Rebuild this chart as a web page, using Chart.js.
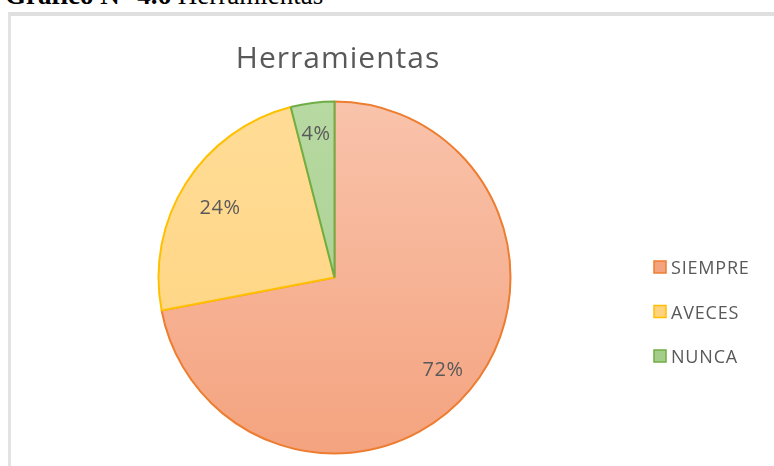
<!DOCTYPE html>
<html>
<head>
<meta charset="utf-8">
<script src="https://cdn.jsdelivr.net/npm/chart.js@4/dist/chart.umd.min.js"></script>
<style>
  html, body { margin: 0; padding: 0; background: #fff; width: 774px; height: 466px; overflow: hidden; }
  #caption { position: absolute; left: 5px; top: -18px; font-family: "Liberation Serif", "Times New Roman", serif; font-size: 27px; line-height: 27px; color: #000; white-space: nowrap; }
  #frame { position: absolute; left: 8px; top: 12px; width: 820px; height: 520px; border-left: 3px solid #e3e3e3; border-top: 4px solid #dfdfdf; }
  #wrap { position: absolute; left: 0; top: 0; width: 774px; height: 466px; }
</style>
</head>
<body>
<div id="caption"><b>Gráfico N° 4.6</b> Herramientas</div>
<div id="frame"></div>
<div id="wrap"><canvas id="c" width="774" height="466"></canvas></div>
<script>
const chartTitle = "Herramientas";
const categories = ["SIEMPRE", "AVECES", "NUNCA"];
const values = [72, 24, 4];
const fillTop = ["#F9C3AB", "#FFDC96", "#B7D9A2"];
const fillBottom = ["#F4A37F", "#FFD37E", "#A5CD8A"];
const borderColors = ["#ED7D31", "#FFC000", "#70AD47"];

const CX = 334.5, CY = 277.5, R = 176;

function grad(ctx, i) {
  const c = ctx.chart.ctx;
  const g = c.createLinearGradient(0, CY - R, 0, CY + R);
  g.addColorStop(0, fillTop[i]);
  g.addColorStop(1, fillBottom[i]);
  return g;
}

const overlay = {
  id: 'overlay',
  afterDraw(chart) {
    const ctx = chart.ctx;
    ctx.save();
    // title
    ctx.fillStyle = '#595959';
    ctx.font = '30px "Open Sans", sans-serif';
    ctx.letterSpacing = '1px';
    ctx.textAlign = 'center';
    ctx.textBaseline = 'alphabetic';
    ctx.fillText(chartTitle, 338, 68);
    // data labels
    const meta = chart.getDatasetMeta(0);
    const total = values.reduce((a, b) => a + b, 0);
    ctx.font = '20px "Open Sans", sans-serif';
    ctx.letterSpacing = '0.5px';
    ctx.textBaseline = 'middle';
    meta.data.forEach((arc, i) => {
      const p = arc.getProps(['x', 'y', 'startAngle', 'endAngle', 'outerRadius'], true);
      const mid = (p.startAngle + p.endAngle) / 2;
      const f = values[i] / total < 0.06 ? 0.84 : (values[i] / total < 0.5 ? 0.77 : 0.8);
      const x = p.x + Math.cos(mid) * p.outerRadius * f;
      const y = p.y + Math.sin(mid) * p.outerRadius * f;
      ctx.fillText(Math.round(values[i] / total * 100) + '%', x, y + 3);
    });
    // legend
    ctx.textAlign = 'left';
    ctx.font = '18px "Open Sans", sans-serif';
    ctx.letterSpacing = '0.8px';
    categories.forEach((cat, i) => {
      const y = 267 + i * 44.5;
      ctx.fillStyle = fillBottom[i];
      ctx.fillRect(654, y - 6, 12, 12);
      ctx.strokeStyle = borderColors[i];
      ctx.lineWidth = 1.5;
      ctx.strokeRect(654, y - 6, 12, 12);
      ctx.fillStyle = '#595959';
      ctx.fillText(cat, 671, y + 2);
    });
    ctx.restore();
  }
};

new Chart(document.getElementById('c'), {
  type: 'pie',
  data: {
    labels: categories,
    datasets: [{
      data: values,
      backgroundColor: (ctx) => grad(ctx, ctx.dataIndex),
      borderColor: borderColors,
      borderWidth: 2,
      radius: R
    }]
  },
  options: {
    responsive: false,
    animation: false,
    layout: { padding: { left: 150, right: 255, top: 93, bottom: 4 } },
    plugins: { legend: { display: false }, tooltip: { enabled: false }, title: { display: false } }
  },
  plugins: [overlay]
});
</script>
</body>
</html>
